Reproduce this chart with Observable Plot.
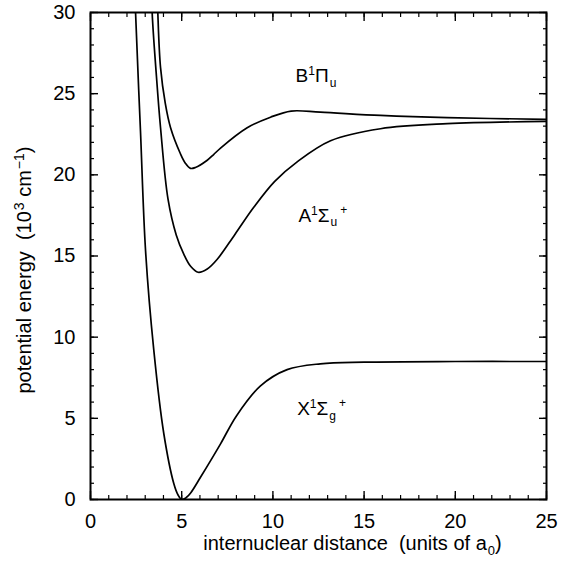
<!DOCTYPE html>
<html><head><meta charset="utf-8">
<script src="https://cdn.jsdelivr.net/npm/d3@7"></script>
<script src="https://cdn.jsdelivr.net/npm/@observablehq/plot@0.6"></script>
<style>
body{margin:0;background:#fff;}
#chart{width:570px;height:566px;}
text{white-space:pre;}
</style>
</head><body><div id="chart"></div>
<script>
// ---- data (internuclear distance in a0, energy in 10^3 cm^-1) ----
const rX = [2.40, 2.47, 2.74, 3.02, 3.47, 4.02, 4.57, 4.80, 5.00, 5.25, 5.50, 6.03, 7.13, 8.00, 9.32, 10.78, 12.6, 15.0, 20.0, 25.0];
const eX = [33.0, 30.0, 22.7, 15.3, 9.2, 4.05, 0.97, 0.28, 0.0, 0.12, 0.42, 1.37, 3.43, 5.15, 7.0, 8.0, 8.36, 8.46, 8.5, 8.5];

const rA = [3.32, 3.38, 3.60, 3.84, 4.25, 4.70, 5.12, 5.50, 5.90, 6.40, 6.95, 7.90, 8.95, 10.1, 11.33, 13.16, 15.9, 19.56, 25.0];
const eA = [33.0, 30.0, 26.3, 22.9, 18.5, 16.3, 15.1, 14.35, 14.0, 14.2, 14.8, 16.3, 18.0, 19.6, 20.8, 22.1, 22.84, 23.15, 23.29];

const rB = [3.62, 3.69, 3.84, 4.10, 4.39, 4.93, 5.20, 5.48, 5.75, 6.40, 6.75, 7.13, 8.59, 9.87, 11.0, 12.6, 15.9, 19.56, 25.0];
const eB = [33.0, 30.0, 26.6, 24.4, 22.9, 21.3, 20.72, 20.4, 20.45, 20.9, 21.25, 21.65, 22.9, 23.55, 23.93, 23.86, 23.66, 23.52, 23.42];

const stateNames = ["X", "A", "B"];
const labelR = [11.33, 11.40, 11.24];
const labelE = [5.58, 17.5, 26.12];
const labelParts = [
  [["X", ""], ["1", "sup"], ["Σ", ""], ["g", "sub"], ["+", "supAfterSub"]],
  [["A", ""], ["1", "sup"], ["Σ", ""], ["u", "sub"], ["+", "supAfterSub"]],
  [["B", ""], ["1", "sup"], ["Π", ""], ["u", "sub"]]
];

const xMajorTicks = [0, 5, 10, 15, 20, 25];
const yMajorTicks = [0, 5, 10, 15, 20, 25, 30];
const xMinorTicks = d3.range(0, 26, 1);
const yMinorTicks = d3.range(0, 31, 1);

const xTitleParts = [["internuclear distance  (units of a", ""], ["0", "sub"], [")", ""]];
const yTitleParts = [["potential energy  (10", ""], ["3", "sup"], [" cm", ""], ["−1", "sup"], [")", ""]];

// ---- build tables ----
const curves = [
  ...rX.map((r, i) => ({state: "X", r, e: eX[i]})),
  ...rA.map((r, i) => ({state: "A", r, e: eA[i]})),
  ...rB.map((r, i) => ({state: "B", r, e: eB[i]}))
];
const labels = stateNames.map((s, i) => ({state: s, r: labelR[i], e: labelE[i]}));

const font = "'Liberation Sans', Arial, Helvetica, sans-serif";
const blank = () => "";

const chart = Plot.plot({
  width: 570,
  height: 566,
  marginLeft: 90,
  marginRight: 24,
  marginTop: 12,
  marginBottom: 67,
  style: {fontFamily: font, background: "#fff", color: "#000"},
  x: {domain: [0, 25]},
  y: {domain: [0, 30]},
  marks: [
    // minor ticks (inward) on all four sides
    Plot.axisX(xMinorTicks, {anchor: "bottom", tickSize: -4, tickFormat: blank, label: null, strokeWidth: 1.2}),
    Plot.axisX(xMinorTicks, {anchor: "top", tickSize: -4, tickFormat: blank, label: null, strokeWidth: 1.2}),
    Plot.axisY(yMinorTicks, {anchor: "left", tickSize: -4, tickFormat: blank, label: null, strokeWidth: 1.2}),
    Plot.axisY(yMinorTicks, {anchor: "right", tickSize: -4, tickFormat: blank, label: null, strokeWidth: 1.2}),
    // major ticks (inward)
    Plot.axisX(xMajorTicks, {anchor: "bottom", tickSize: -8, tickFormat: blank, label: null, strokeWidth: 1.4}),
    Plot.axisX(xMajorTicks, {anchor: "top", tickSize: -8, tickFormat: blank, label: null, strokeWidth: 1.4}),
    Plot.axisY(yMajorTicks, {anchor: "left", tickSize: -8, tickFormat: blank, label: null, strokeWidth: 1.4}),
    Plot.axisY(yMajorTicks, {anchor: "right", tickSize: -8, tickFormat: blank, label: null, strokeWidth: 1.4}),
    // tick labels
    Plot.axisX(xMajorTicks, {anchor: "bottom", tickSize: 0, tickPadding: 14, fontSize: 20, label: null, tickFormat: d => String(d)}),
    Plot.axisY(yMajorTicks, {anchor: "left", tickSize: 0, tickPadding: 15, fontSize: 20, label: null, tickFormat: d => String(d)}),
    Plot.frame({stroke: "#000", strokeWidth: 2}),
    // potential curves
    Plot.line(curves, {x: "r", y: "e", z: "state", curve: "catmull-rom", stroke: "#000", strokeWidth: 1.7, clip: true}),
    // state labels (rich text added after render)
    Plot.text(labels, {x: "r", y: "e", text: "state", textAnchor: "start", fontSize: 19, fill: "#000"}),
    // axis titles
    Plot.text(["x-title"], {frameAnchor: "bottom", textAnchor: "middle", dx: 34, dy: 50, text: d => d, fontSize: 20, fill: "#000"}),
    Plot.text(["y-title"], {frameAnchor: "left", textAnchor: "middle", dx: -66, dy: 14, rotate: -90, text: d => d, fontSize: 20, fill: "#000"})
  ]
});

document.getElementById("chart").appendChild(chart);

function rich(textEl, parts, small) {
  const sel = d3.select(textEl);
  sel.selectAll("*").remove();
  sel.text(null);
  let shift = 0; // current baseline shift in px (positive = down)
  for (const [t, kind] of parts) {
    let target = 0, size = null, dx = 0;
    if (kind === "sup") { target = -7; size = small; dx = small > 12 ? 1 : 0; }
    else if (kind === "sub") { target = 5; size = small; dx = 1; }
    else if (kind === "supAfterSub") { target = -8; size = small; dx = 3; }
    const ts = sel.append("tspan").text(t);
    if (target - shift !== 0) ts.attr("dy", (target - shift) + "px");
    if (size) ts.attr("font-size", size + "px");
    if (dx) ts.attr("dx", dx + "px");
    shift = target;
  }
}

d3.select(chart).selectAll("text").each(function () {
  const t = this.textContent.trim();
  const i = stateNames.indexOf(t);
  if (i >= 0) rich(this, labelParts[i], 12);
  else if (t === "x-title") rich(this, xTitleParts, 13);
  else if (t === "y-title") rich(this, yTitleParts, 14);
});
</script>
</body></html>
